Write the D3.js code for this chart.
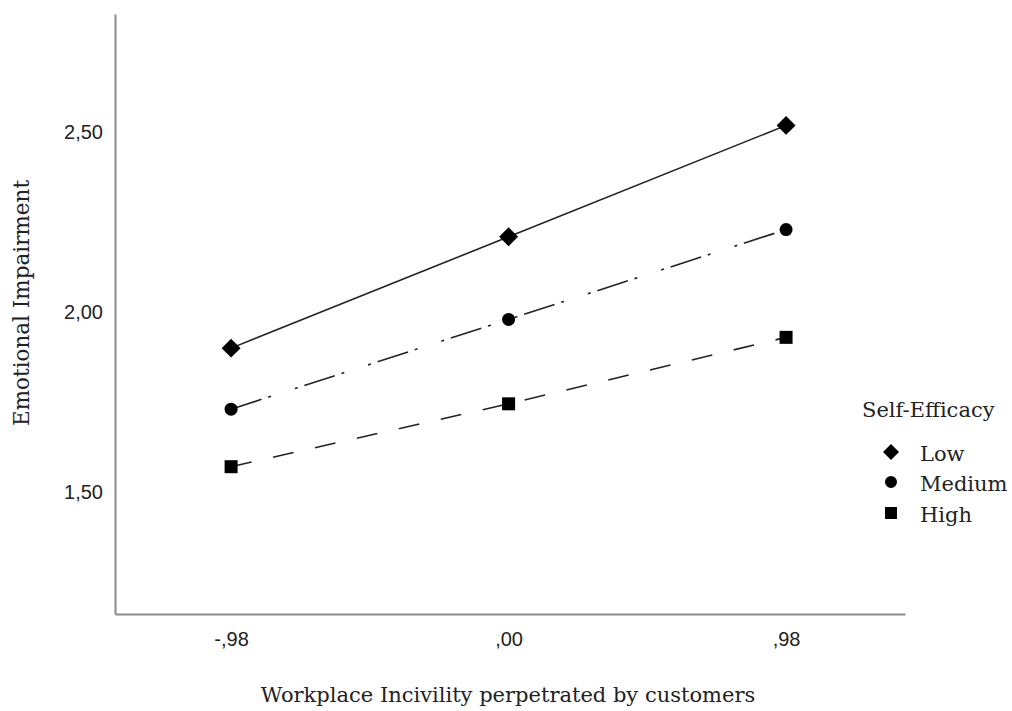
<!DOCTYPE html>
<html>
<head>
<meta charset="utf-8">
<script src="https://cdn.jsdelivr.net/npm/d3@7"></script>
<style>
  body { margin: 0; background: #fff; }
  svg { display: block; }
</style>
</head>
<body>
<div id="chart"></div>
<script>
// x categories (centered predictor)
var xValues = [-0.98, 0.00, 0.98];
var xLabels = ["-,98", ",00", ",98"];

// emotional impairment per self-efficacy level
var lowValues = [1.90, 2.21, 2.52];
var mediumValues = [1.73, 1.98, 2.23];
var highValues = [1.57, 1.745, 1.93];

var seriesNames = ["Low", "Medium", "High"];
var yTicks = [1.5, 2.0, 2.5];

var width = 1012, height = 711;

var x = d3.scaleLinear().domain([-1.39, 1.40]).range([115, 905]);
var y = d3.scaleLinear().domain([1.16, 2.83]).range([614, 14]);

var svg = d3.select("#chart").append("svg")
    .attr("width", width)
    .attr("height", height);

// axes
svg.append("g")
    .attr("transform", "translate(0,614)")
    .call(d3.axisBottom(x).tickValues(xValues).tickSize(0).tickPadding(18)
      .tickFormat(function(d, i) { return xLabels[i]; }));

svg.append("g")
    .attr("transform", "translate(115,0)")
    .call(d3.axisLeft(y).tickValues(yTicks).tickSize(0).tickPadding(12)
      .tickFormat(function(d) { return d3.format(".2f")(d).replace(".", ","); }));

svg.selectAll(".domain")
    .attr("stroke", "#8a8a8a")
    .attr("stroke-width", 2);
svg.selectAll(".tick text")
    .attr("font-family", "Liberation Sans, Arial, sans-serif")
    .attr("font-size", 20)
    .attr("fill", "#222");

var serif = "DejaVu Serif, serif";

// axis titles
svg.append("text")
    .attr("x", 508)
    .attr("y", 702)
    .attr("text-anchor", "middle")
    .attr("font-family", serif)
    .attr("font-size", 21)
    .attr("fill", "#222")
    .text("Workplace Incivility perpetrated by customers");

svg.append("text")
    .attr("transform", "translate(29,303) rotate(-90)")
    .attr("text-anchor", "middle")
    .attr("font-family", serif)
    .attr("font-size", 21.5)
    .attr("fill", "#222")
    .text("Emotional Impairment");

var line = d3.line()
    .x(function(d, i) { return x(xValues[i]); })
    .y(function(d) { return y(d); });

var series = [
  { name: seriesNames[0], values: lowValues, dash: null, shape: d3.symbolSquare, size: 180, rot: 45, lsize: 128 },
  { name: seriesNames[1], values: mediumValues, dash: "32,7,3,25,3,7", shape: d3.symbolCircle, size: 133, rot: 0, lsize: 113 },
  { name: seriesNames[2], values: highValues, dash: "21,22", shape: d3.symbolSquare, size: 169, rot: 0, lsize: 144 }
];

series.forEach(function(s) {
  svg.append("path")
      .datum(s.values)
      .attr("fill", "none")
      .attr("stroke", "#222")
      .attr("stroke-width", 1.6)
      .attr("stroke-dasharray", s.dash)
      .attr("d", line);

  svg.selectAll(null)
      .data(s.values)
      .enter().append("path")
      .attr("transform", function(d, i) {
        return "translate(" + x(xValues[i]) + "," + y(d) + ") rotate(" + s.rot + ")";
      })
      .attr("d", d3.symbol().type(s.shape).size(s.size))
      .attr("fill", "#000");
});

// legend
var legend = svg.append("g").attr("transform", "translate(862,0)");
legend.append("text")
    .attr("x", 0)
    .attr("y", 417)
    .attr("font-family", serif)
    .attr("font-size", 21)
    .attr("fill", "#222")
    .text("Self-Efficacy");

var rowY = [452, 482, 513];
series.forEach(function(s, i) {
  var ly = rowY[i];
  legend.append("path")
      .attr("transform", "translate(29," + ly + ") rotate(" + s.rot + ")")
      .attr("d", d3.symbol().type(s.shape).size(s.lsize))
      .attr("fill", "#000");
  legend.append("text")
      .attr("x", 58)
      .attr("y", ly + 9)
      .attr("font-family", serif)
      .attr("font-size", 21)
      .attr("fill", "#222")
      .text(s.name);
});
</script>
</body>
</html>
